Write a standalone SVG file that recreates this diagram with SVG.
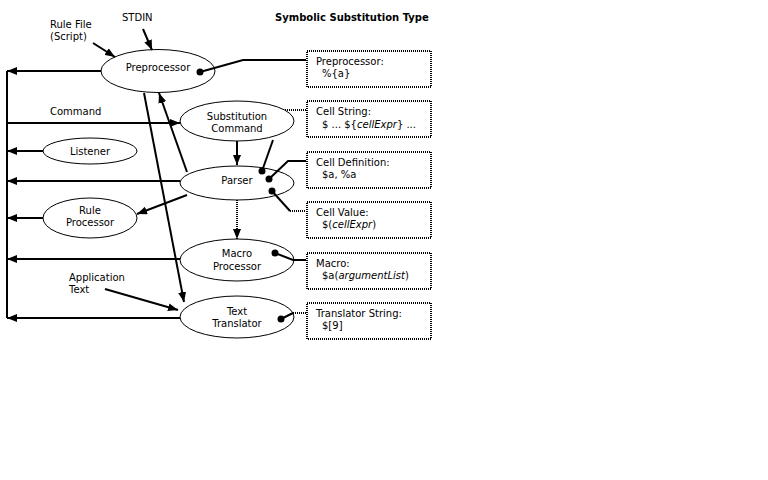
<svg xmlns="http://www.w3.org/2000/svg" width="768" height="480" viewBox="0 0 768 480">
<style>
text{font-family:"DejaVu Sans","Liberation Sans",sans-serif;font-size:10px;fill:#000}
.c{text-anchor:middle}
.t{font-weight:bold}
.e{fill:#fff;stroke:#000;stroke-width:1}
.b{fill:#fff;stroke:#000;stroke-width:2;stroke-dasharray:1 1}
.l{fill:none;stroke:#000;stroke-width:2}
.d{fill:none;stroke:#000;stroke-width:2;stroke-dasharray:1 1}
.a{marker-end:url(#ah)}
.dot{fill:#000}
</style>
<defs>
<marker id="ah" viewBox="0 0 10 8" refX="10" refY="4" markerWidth="10" markerHeight="8" markerUnits="userSpaceOnUse" orient="auto">
<path d="M0,0 L10,4 L0,8 Z" fill="#000"/>
</marker>
</defs>
<text class="t" x="275" y="21">Symbolic Substitution Type</text>
<g id="labels">
<text x="50" y="28">Rule File</text>
<text x="50" y="40">(Script)</text>
<text x="122" y="21">STDIN</text>
<text x="50" y="115">Command</text>
<text x="69" y="281">Application</text>
<text x="69" y="293">Text</text>
</g>
<g id="preprocessor"><ellipse class="e" cx="158" cy="71" rx="57" ry="21.5"/><text class="c" x="158" y="71">Preprocessor</text></g>
<g id="substitution-command"><ellipse class="e" cx="237" cy="121" rx="57" ry="20"/><text class="c" x="237" y="120">Substitution</text><text class="c" x="237" y="132">Command</text></g>
<g id="listener"><ellipse class="e" cx="90" cy="151" rx="47" ry="13"/><text class="c" x="90" y="155">Listener</text></g>
<g id="parser"><ellipse class="e" cx="237" cy="183" rx="57" ry="17"/><text class="c" x="237" y="184">Parser</text></g>
<g id="rule-processor"><ellipse class="e" cx="90" cy="218" rx="47" ry="20"/><text class="c" x="90" y="214">Rule</text><text class="c" x="90" y="226">Processor</text></g>
<g id="macro-processor"><ellipse class="e" cx="237" cy="260" rx="57" ry="21"/><text class="c" x="237" y="257">Macro</text><text class="c" x="237" y="270">Processor</text></g>
<g id="text-translator"><ellipse class="e" cx="237" cy="317" rx="57" ry="21"/><text class="c" x="237" y="315">Text</text><text class="c" x="237" y="327">Translator</text></g>
<g id="box-preprocessor"><rect class="b" x="307" y="51" width="124" height="36"/><text x="316" y="65">Preprocessor:</text><text x="322" y="77">%{a}</text></g>
<g id="box-cell-string"><rect class="b" x="307" y="101" width="124" height="36"/><text x="316" y="115">Cell String:</text><text x="322" y="128" xml:space="preserve">$ ... ${<tspan font-style="italic">cellExpr</tspan>} ...</text></g>
<g id="box-cell-definition"><rect class="b" x="307" y="152" width="124" height="36"/><text x="316" y="166">Cell Definition:</text><text x="322" y="178">$a, %a</text></g>
<g id="box-cell-value"><rect class="b" x="307" y="202" width="124" height="36"/><text x="316" y="216">Cell Value:</text><text x="322" y="228">$(<tspan font-style="italic">cellExpr</tspan>)</text></g>
<g id="box-macro"><rect class="b" x="307" y="253" width="124" height="36"/><text x="316" y="267">Macro:</text><text x="322" y="279">$a(<tspan font-style="italic">argumentList</tspan>)</text></g>
<g id="box-translator-string"><rect class="b" x="307" y="303" width="124" height="36"/><text x="316" y="317">Translator String:</text><text x="322" y="329">$[9]</text></g>
<g id="connectors">
<path class="l" d="M7,71 V318"/>
<path class="l a" d="M101,71 H7"/>
<path class="l a" d="M7,123 H180"/>
<path class="l a" d="M43,151 H7"/>
<path class="l a" d="M180,181 H7"/>
<path class="l a" d="M43,218 H7"/>
<path class="l a" d="M180,259 H7"/>
<path class="l a" d="M180,318 H7"/>
<path class="l a" d="M93,43 L115,57"/>
<path class="l a" d="M143,29 L152,50"/>
<path class="l a" d="M105,289 L178,310"/>
<path class="l a" d="M237,141 V165"/>
<path class="d a" d="M237,200 V239"/>
<path class="l a" d="M187,195 L137,214"/>
<path class="l a" d="M187,172 L159,93"/>
<path class="l a" d="M144,93 L184,302"/>
<path class="l" d="M200,72 L243,60 H306"/>
<path class="l" d="M262,171 L273,140"/>
<path class="d" d="M285,110 H306"/>
<path class="l" d="M269,179 L288,161 H306"/>
<path class="l" d="M272,191 L290,211"/>
<path class="d" d="M290,211 H306"/>
<path class="l" d="M275,253 L293,260 H306"/>
<path class="l" d="M281,319 L293,313"/>
<path class="d" d="M293,313 H306"/>
<circle class="dot" cx="200" cy="72" r="3.5"/>
<circle class="dot" cx="262" cy="171" r="3.5"/>
<circle class="dot" cx="269" cy="179" r="3.5"/>
<circle class="dot" cx="272" cy="191" r="3.5"/>
<circle class="dot" cx="275" cy="253" r="3.5"/>
<circle class="dot" cx="281" cy="319" r="3.5"/>
</g>
</svg>
